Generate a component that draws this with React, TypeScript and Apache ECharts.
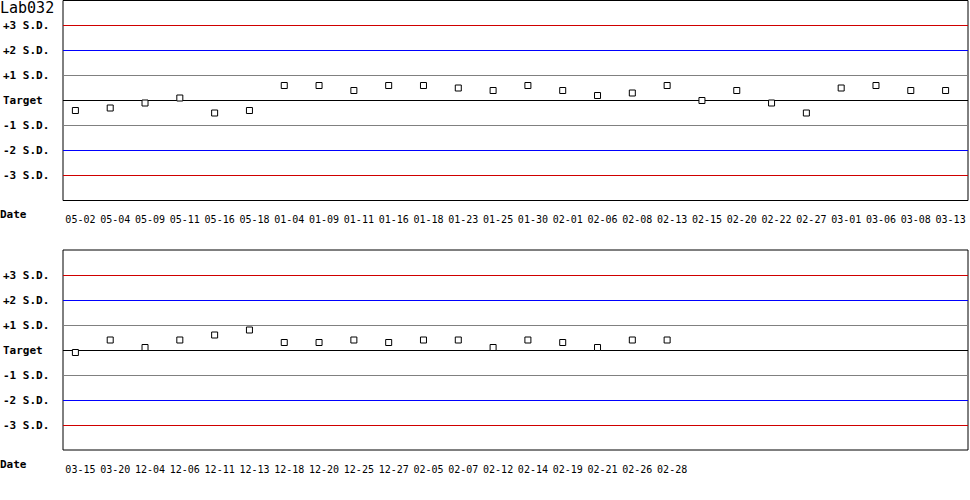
import * as echarts from 'echarts'
import { useEffect, useRef } from 'react'

// upper panel
const datesTop = [
  '05-02', '05-04', '05-09', '05-11', '05-16', '05-18', '01-04', '01-09', '01-11',
  '01-16', '01-18', '01-23', '01-25', '01-30', '02-01', '02-06', '02-08', '02-13',
  '02-15', '02-20', '02-22', '02-27', '03-01', '03-06', '03-08', '03-13',
]
const valuesTop = [
  -0.4, -0.3, -0.1, 0.1, -0.5, -0.4, 0.6, 0.6, 0.4,
  0.6, 0.6, 0.5, 0.4, 0.6, 0.4, 0.2, 0.3, 0.6,
  0, 0.4, -0.1, -0.5, 0.5, 0.6, 0.4, 0.4,
]

// lower panel
const datesBottom = [
  '03-15', '03-20', '12-04', '12-06', '12-11', '12-13', '12-18', '12-20', '12-25',
  '12-27', '02-05', '02-07', '02-12', '02-14', '02-19', '02-21', '02-26', '02-28',
]
const valuesBottom = [
  -0.1, 0.4, 0.1, 0.4, 0.6, 0.8, 0.3, 0.3, 0.4,
  0.3, 0.4, 0.4, 0.1, 0.4, 0.3, 0.1, 0.4, 0.4,
]

const slotCount = 26
const sdLabels = ['', '-3 S.D.', '-2 S.D.', '-1 S.D.', 'Target', '+1 S.D.', '+2 S.D.', '+3 S.D.', '']
const sdColors = ['rgba(0,0,0,0)', '#d00000', '#0000ff', '#808080', '#000000', '#808080', '#0000ff', '#d00000', 'rgba(0,0,0,0)']

const FONT = '"DejaVu Sans Mono", monospace'

const padSlots = (dates: string[]) =>
  Array.from({ length: slotCount }, (_, i) => dates[i] ?? '')

export default function App() {
  const chartRef = useRef<HTMLDivElement>(null)

  useEffect(() => {
    document.body.style.margin = '0'
    if (!chartRef.current) return
    const chart = echarts.init(chartRef.current, undefined, { renderer: 'svg' })

    const grids = [
      { left: 60, top: 0.5, width: 908, height: 200 },
      { left: 60, top: 250, width: 908, height: 200 },
    ]

    const xAxis = [datesTop, datesBottom].map((d, i) => ({
      type: 'category',
      gridIndex: i,
      data: padSlots(d),
      boundaryGap: true,
      axisLine: { show: false },
      axisTick: { show: false },
      axisLabel: { interval: 0, fontSize: 10, fontFamily: FONT, color: '#000', margin: 14 },
      splitLine: { show: false },
    }))

    const yAxis = [0, 1].map(i => ({
      type: 'value',
      gridIndex: i,
      min: -4,
      max: 4,
      interval: 1,
      axisLine: { show: false },
      axisTick: { show: false },
      axisLabel: {
        align: 'left',
        margin: 60,
        fontSize: 11,
        fontWeight: 'bold',
        fontFamily: FONT,
        color: '#000',
        formatter: (v: number) => sdLabels[Math.round(v) + 4] ?? '',
      },
      splitLine: { show: true, lineStyle: { color: sdColors, width: 1 } },
    }))

    const series = [valuesTop, valuesBottom].map((vals, i) => ({
      type: 'scatter',
      xAxisIndex: i,
      yAxisIndex: i,
      symbol: 'rect',
      symbolSize: 6,
      symbolOffset: [-5, 0],
      itemStyle: { color: '#fff', borderColor: '#000', borderWidth: 1, opacity: 1 },
      emphasis: { disabled: true },
      data: vals,
      z: 5,
    }))

    const option: any = {
      animation: false,
      backgroundColor: '#fff',
      title: {
        text: 'Lab032',
        left: 0,
        top: 0,
        padding: 0,
        textStyle: { fontSize: 15, fontWeight: 'normal', fontFamily: FONT, color: '#000' },
      },
      grid: grids.map(g => ({ ...g, show: true, borderColor: '#000', borderWidth: 1, backgroundColor: 'transparent' })),
      xAxis,
      yAxis,
      series,
      graphic: [215, 465].map(y => ({
        type: 'text',
        left: 0,
        top: y - 6,
        style: { text: 'Date', fontSize: 11, fontWeight: 'bold', fontFamily: FONT, fill: '#000' },
      })),
    }

    chart.setOption(option)

    return () => {
      chart.dispose()
    }
  }, [])

  return <div ref={chartRef} style={{ width: 970, height: 500 }} />
}
